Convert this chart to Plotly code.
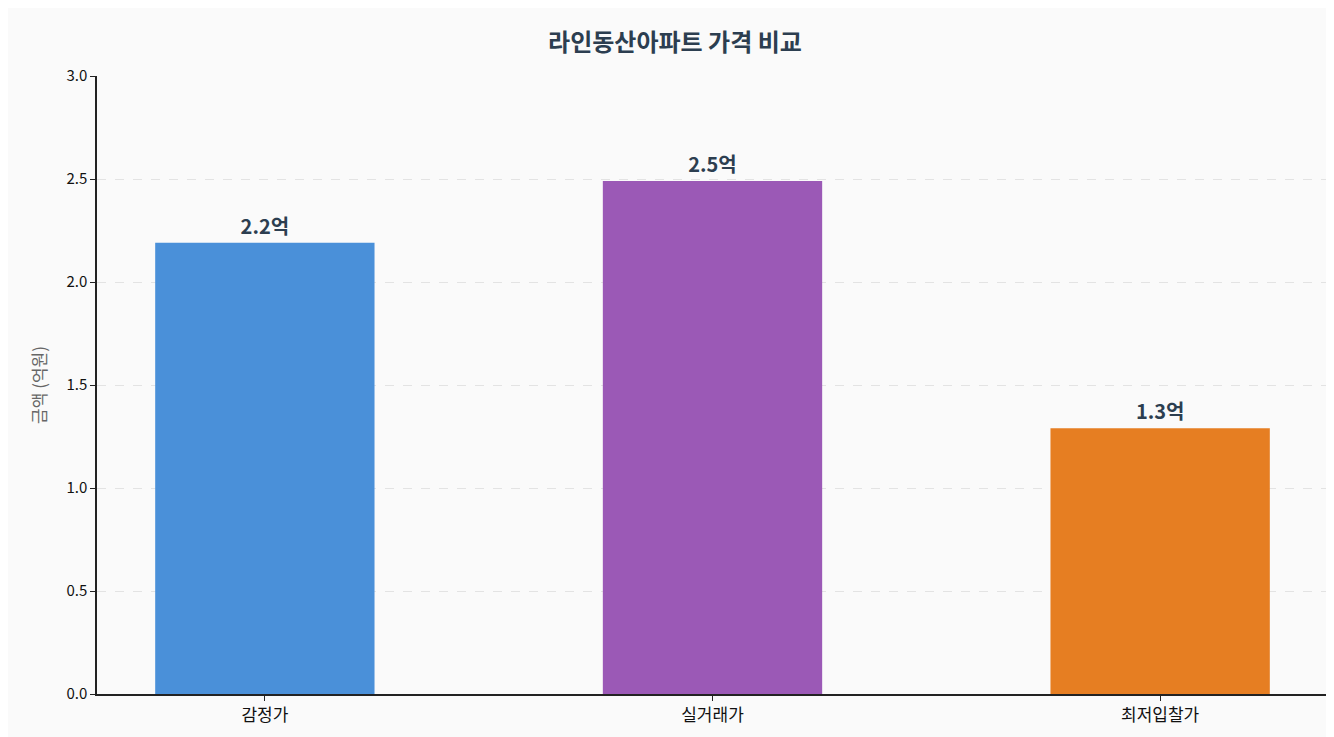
import plotly.graph_objects as go

categories = ["감정가", "실거래가", "최저입찰가"]
values = [2.19, 2.49, 1.29]
labels = ["2.2억", "2.5억", "1.3억"]
colors = ["#4a90d9", "#9b59b6", "#e67e22"]

fig = go.Figure(go.Bar(
    x=categories, y=values, width=0.49,
    marker=dict(color=colors, line=dict(width=0)),
    text=labels, textposition="outside",
    textfont=dict(size=20, color="#2c3e50", family="Noto Sans CJK KR"),
    texttemplate="<b>%{text}</b>", cliponaxis=False,
))
fig.update_layout(
    width=1334, height=737,
    paper_bgcolor="#fafafa", plot_bgcolor="#fafafa",
    font=dict(family="Noto Sans CJK KR", size=15, color="#111"),
    title=dict(text="<b>라인동산아파트 가격 비교</b>", x=0.5, y=0.965, xanchor="center",
               font=dict(size=24, color="#2c3e50")),
    margin=dict(l=89, r=14, t=68, b=51),
    showlegend=False,
    xaxis=dict(range=[-0.375, 2.375], showline=True, linecolor="#222", linewidth=1.5,
               ticks="outside", ticklen=5, tickcolor="#222", showgrid=False,
               tickfont=dict(size=17)),
    yaxis=dict(range=[0, 3.0], dtick=0.5, tickformat=".1f", showline=True, linecolor="#222",
               linewidth=1.5, ticks="outside", ticklen=5, tickcolor="#222",
               gridcolor="#e3e3e3", griddash="dash", zeroline=False,
               title=dict(text="금액 (억원)", font=dict(size=17, color="#666"))),
)
fig.write_html("out.html")
